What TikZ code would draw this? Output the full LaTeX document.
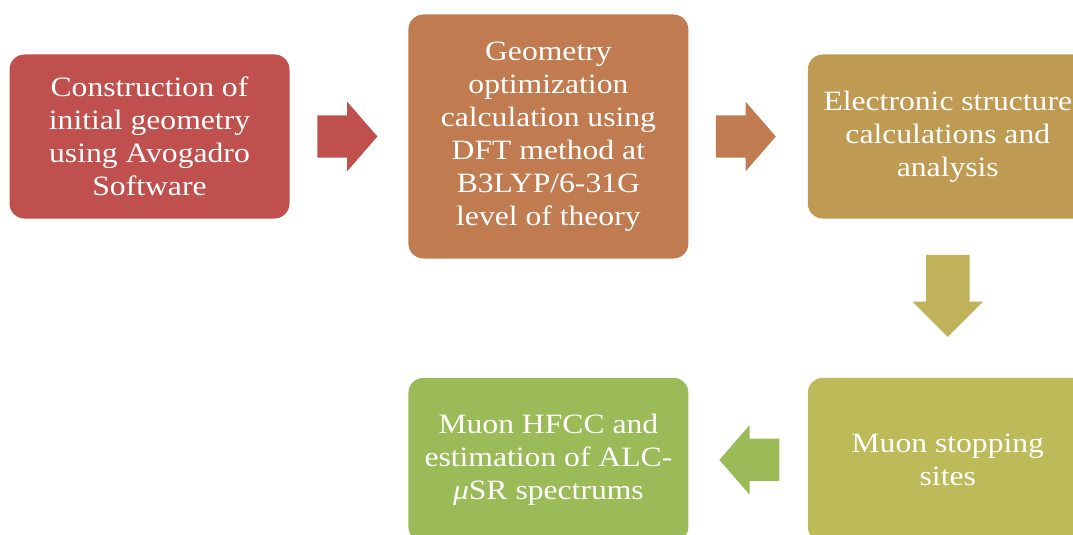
\documentclass[tikz,border=0pt]{standalone}
\usepackage{fontspec}
\setmainfont{Liberation Serif}[FakeStretch=1.13]
\usetikzlibrary{positioning,shapes.arrows,calc}
\definecolor{stepred}{HTML}{C0504D}
\definecolor{steporange}{HTML}{C07B50}
\definecolor{stepgold}{HTML}{BF9A52}
\definecolor{stepolive}{HTML}{C0B25A}
\definecolor{stepkhaki}{HTML}{BCBA59}
\definecolor{stepgreen}{HTML}{9BBB59}
\tikzset{
	stepbox/.style={rounded corners=15pt, minimum width=280pt, minimum height=164pt,
		inner sep=0pt, text=white, align=center,
		font=\fontsize{28}{33}\selectfont},
	blockarrow/.style={single arrow, inner xsep=0pt, inner ysep=21pt, minimum height=60pt,
		minimum width=69pt, single arrow head extend=13.5pt,
		single arrow head indent=0pt, single arrow tip angle=98, anchor=tail}
}
\begin{document}
	\begin{tikzpicture}[x=1pt,y=-1pt]
		\clip (0,0) rectangle (1073,535);
		\node[stepbox, fill=stepred] (construct) at (149.5,136.5)
			{Construction of\\initial geometry\\using Avogadro\\Software};
		\node[stepbox, fill=steporange, minimum height=244pt, right=118.5pt of construct] (optimize)
			{Geometry\\optimization\\calculation using\\DFT method at\\B3LYP/6-31G\\level of theory};
		\node[stepbox, fill=stepgold, right=119pt of optimize] (electronic)
			{Electronic structure\\calculations and\\analysis};
		\node[stepbox, fill=stepkhaki, below=159pt of electronic] (stopping)
			{Muon stopping\\sites};
		\node[stepbox, fill=stepgreen, left=119pt of stopping] (hfcc)
			{Muon HFCC and\\estimation of ALC-\\{\itshape μ}SR spectrums};
		% block arrows between the steps
		\node[blockarrow, fill=stepred] (arrowA) at ($(construct.east)+(27.5,0)$) {};
		\node[blockarrow, fill=steporange] (arrowB) at ($(optimize.east)+(27,0)$) {};
		\node[blockarrow, fill=stepolive, shape border rotate=270, inner xsep=21.5pt, inner ysep=0pt,
			minimum height=82pt, minimum width=70pt, single arrow tip angle=90]
			(arrowC) at ($(electronic.south)+(0,36)$) {};
		\node[blockarrow, fill=stepgreen, shape border rotate=180] (arrowD)
			at ($(stopping.west)+(-28,0)$) {};
	\end{tikzpicture}
\end{document}
